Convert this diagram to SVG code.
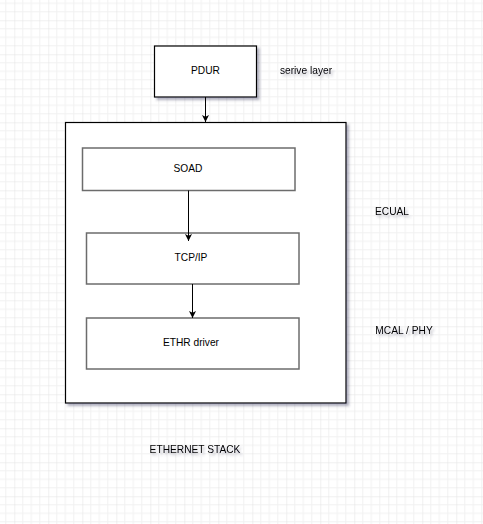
<svg xmlns="http://www.w3.org/2000/svg" width="483" height="524" viewBox="0 0 483 524">
<style>
.lbl{font-family:"Liberation Sans",Arial,sans-serif;font-size:10.2px;fill:#000;text-anchor:middle}
.outer{fill:#fff;stroke:#000;stroke-width:1.2}
.inner{fill:#fff;stroke:#6c6c6c;stroke-width:1.5}
.conn{stroke:#000;stroke-width:1;fill:none}
</style>
<defs>
<pattern id="grid" x="14.3" y="20.3" width="34" height="34" patternUnits="userSpaceOnUse">
<path d="M8.5 0V34M17 0V34M25.5 0V34M0 8.5H34M0 17H34M0 25.5H34" stroke="#f1f1f1" stroke-width="1" fill="none"/>
<path d="M0 0V34M0 0H34" stroke="#e2e2e2" stroke-width="1" fill="none"/>
</pattern>
<filter id="sh" x="-10%" y="-10%" width="130%" height="130%">
<feDropShadow dx="2.5" dy="2.5" stdDeviation="1.2" flood-color="#404060" flood-opacity="0.4"/>
</filter>
<filter id="tsh" x="-20%" y="-50%" width="150%" height="220%">
<feDropShadow dx="2" dy="2.5" stdDeviation="1.3" flood-color="#404060" flood-opacity="0.35"/>
</filter>
<marker id="ah" viewBox="0 0 10 10" refX="10" refY="5" markerWidth="7" markerHeight="7" markerUnits="userSpaceOnUse" orient="auto">
<path d="M0 0L10 5L0 10L2.5 5Z" fill="#000"/>
</marker>
</defs>
<rect width="483" height="524" fill="#fff"/>
<rect width="483" height="524" fill="url(#grid)"/>

<g id="pdur">
<rect class="outer" x="154.5" y="46" width="102" height="51" filter="url(#sh)"/>
<text class="lbl" x="205.5" y="74">PDUR</text>
</g>
<g id="container">
<rect class="outer" x="65.5" y="122.5" width="280.5" height="280.5" filter="url(#sh)"/>
</g>
<g id="soad">
<rect class="inner" x="82.5" y="148" width="212.5" height="42.5"/>
<text class="lbl" x="188" y="172">SOAD</text>
</g>
<g id="tcpip">
<rect class="inner" x="86.5" y="233" width="212.5" height="51"/>
<text class="lbl" x="191" y="260.5">TCP/IP</text>
</g>
<g id="ethr">
<rect class="inner" x="86.5" y="318" width="212.5" height="51"/>
<text class="lbl" x="191" y="345.5">ETHR driver</text>
</g>
<g id="serive-layer" filter="url(#tsh)">
<text class="lbl" x="306" y="74">serive layer</text>
</g>
<g id="ecual" filter="url(#tsh)">
<text class="lbl" x="392" y="215">ECUAL</text>
</g>
<g id="mcal" filter="url(#tsh)">
<text class="lbl" x="404" y="334">MCAL / PHY</text>
</g>
<g id="ethernet-stack" filter="url(#tsh)">
<text class="lbl" x="195" y="453">ETHERNET STACK</text>
</g>

<g id="connectors">
<path class="conn" d="M205.5 97V122" marker-end="url(#ah)"/>
<path class="conn" d="M188.5 190.5V241" marker-end="url(#ah)"/>
<path class="conn" d="M192.5 284V318" marker-end="url(#ah)"/>
</g>
</svg>
